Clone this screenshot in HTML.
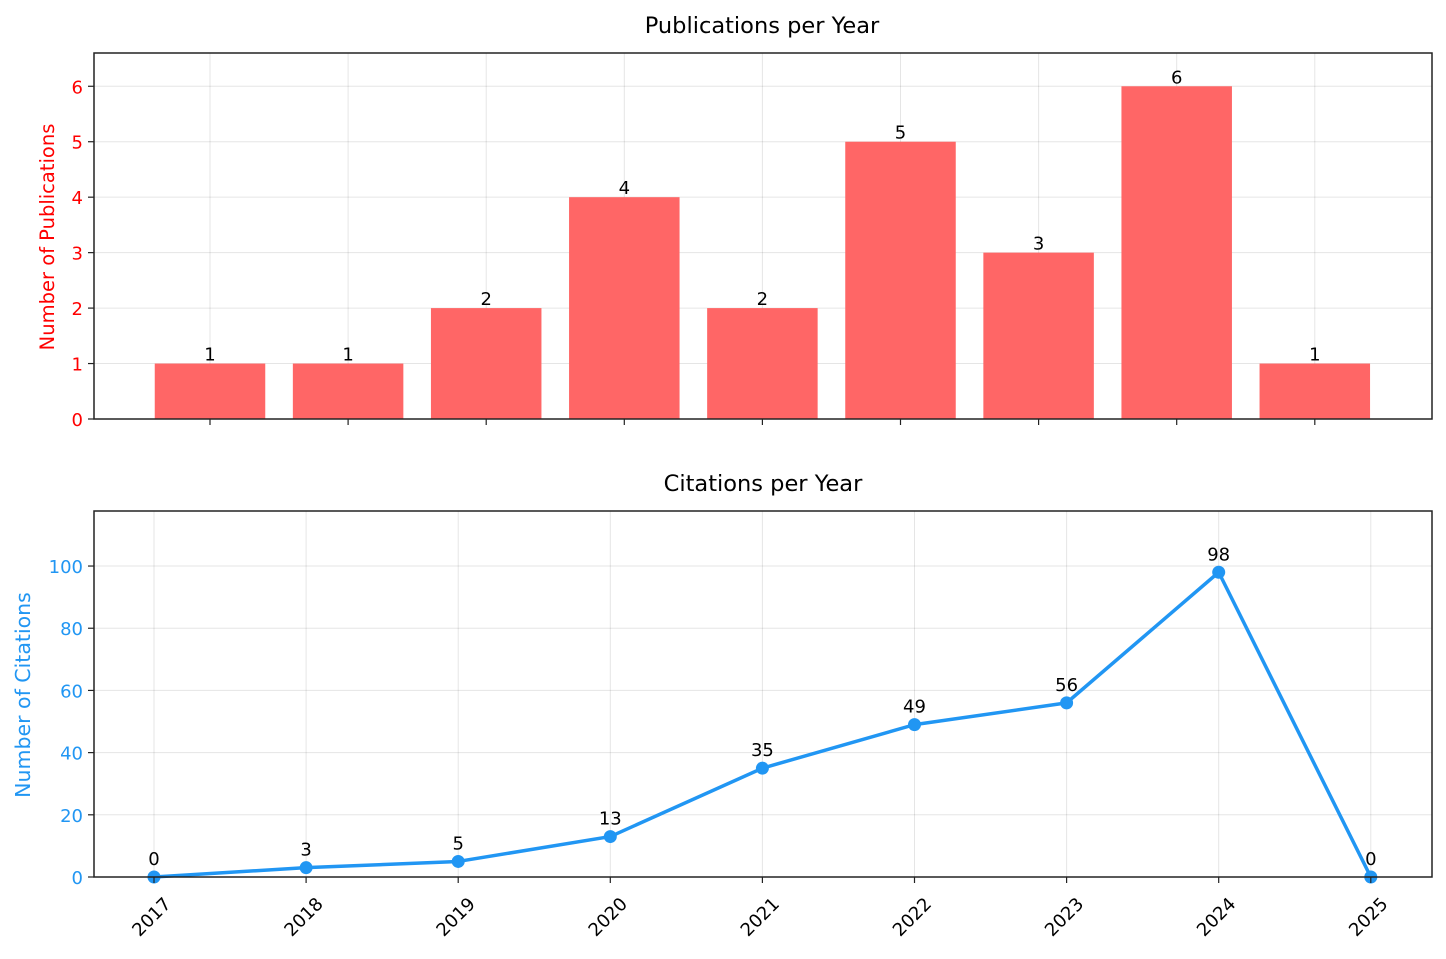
<!DOCTYPE html>
<html><head><meta charset="utf-8"><style>
html,body{margin:0;padding:0;background:#fff;}
svg text{font-family:"DejaVu Sans","Liberation Sans",sans-serif;}
</style></head><body>
<svg id="chart" width="1446" height="954" xmlns="http://www.w3.org/2000/svg"></svg>
<script>
const years = ["2017","2018","2019","2020","2021","2022","2023","2024","2025"];
const publications = [1,1,2,4,2,5,3,6,1];
const citations = [0,3,5,13,35,49,56,98,0];
const pubTicks = [0,1,2,3,4,5,6];
const citTicks = [0,20,40,60,80,100];

const NS = "http://www.w3.org/2000/svg";
const svg = document.getElementById("chart");
function mk(tag, attrs, parent){const e=document.createElementNS(NS,tag);for(const k in attrs)e.setAttribute(k,attrs[k]);(parent||svg).appendChild(e);return e;}

const L=94,R=1432;
const T1=53,B1=419, T2=511,B2=877;
const FS=18;
const xTop = i => 210 + i*138.1;
const yTop = v => B1 - v*(B1-T1)/6.6;
const xBot = i => 154 + i*152.1;
const yBot = v => B2 - v*(B2-T2)/117.7;

const g1 = mk("g",{});


years.forEach((y,i)=>{mk("line",{x1:xTop(i),x2:xTop(i),y1:T1,y2:B1,stroke:"#000","stroke-opacity":0.1,"stroke-width":1},g1);});
pubTicks.forEach(v=>{mk("line",{x1:L,x2:R,y1:yTop(v),y2:yTop(v),stroke:"#000","stroke-opacity":0.1,"stroke-width":1},g1);});
publications.forEach((v,i)=>{
  const w=110.5;
  const r=mk("rect",{x:xTop(i)-w/2,y:yTop(v),width:w,height:B1-yTop(v),fill:"#ff6666"},g1);
  
  
  const t=mk("text",{x:xTop(i),y:yTop(v)-3,"text-anchor":"middle","font-size":FS,fill:"#000"},g1);
  t.textContent=v;
  
  
});
mk("rect",{x:L,y:T1,width:R-L,height:B1-T1,fill:"none",stroke:"#222","stroke-width":1.5},g1);
pubTicks.forEach(v=>{
  mk("line",{x1:L-6,x2:L,y1:yTop(v),y2:yTop(v),stroke:"#222","stroke-width":1.2},g1);
  const t=mk("text",{x:L-11,y:yTop(v)+7,"text-anchor":"end","font-size":FS,fill:"red"},g1);
  t.textContent=v;
  
  
});
years.forEach((y,i)=>{mk("line",{x1:xTop(i),x2:xTop(i),y1:B1,y2:B1+6,stroke:"#222","stroke-width":1.2},g1);});
let t=mk("text",{x:762,y:33,"text-anchor":"middle","font-size":22.5,fill:"#000"},g1);t.textContent="Publications per Year";

t=mk("text",{x:0,y:0,"text-anchor":"middle","font-size":19.5,fill:"red",transform:"translate(54,237) rotate(-90)"},g1);t.textContent="Number of Publications";


const g2 = mk("g",{});


years.forEach((y,i)=>{mk("line",{x1:xBot(i),x2:xBot(i),y1:T2,y2:B2,stroke:"#000","stroke-opacity":0.1,"stroke-width":1},g2);});
citTicks.forEach(v=>{mk("line",{x1:L,x2:R,y1:yBot(v),y2:yBot(v),stroke:"#000","stroke-opacity":0.1,"stroke-width":1},g2);});
const line=mk("polyline",{points:citations.map((v,i)=>xBot(i)+","+yBot(v)).join(" "),fill:"none",stroke:"#2196f3","stroke-width":3.5,"stroke-linejoin":"round"},g2);

citations.forEach((v,i)=>{
  const c=mk("circle",{cx:xBot(i),cy:yBot(v),r:6.5,fill:"#2196f3"},g2);
  
  
  const tt=mk("text",{x:xBot(i),y:yBot(v)-12,"text-anchor":"middle","font-size":FS,fill:"#000"},g2);
  tt.textContent=v;
  
  
});
mk("rect",{x:L,y:T2,width:R-L,height:B2-T2,fill:"none",stroke:"#222","stroke-width":1.5},g2);
citTicks.forEach(v=>{
  mk("line",{x1:L-6,x2:L,y1:yBot(v),y2:yBot(v),stroke:"#222","stroke-width":1.2},g2);
  const tt=mk("text",{x:L-11,y:yBot(v)+7,"text-anchor":"end","font-size":FS,fill:"#2196f3"},g2);
  tt.textContent=v;
  
  
});
years.forEach((y,i)=>{
  mk("line",{x1:xBot(i),x2:xBot(i),y1:B2,y2:B2+6,stroke:"#222","stroke-width":1.2},g2);
  const tt=mk("text",{x:0,y:0,"text-anchor":"end","font-size":FS,fill:"#000",transform:`translate(${xBot(i)+18},${B2+28}) rotate(-45)`},g2);
  tt.textContent=y;
  
  
});
t=mk("text",{x:763,y:491,"text-anchor":"middle","font-size":22.5,fill:"#000"},g2);t.textContent="Citations per Year";

t=mk("text",{x:0,y:0,"text-anchor":"middle","font-size":20.5,fill:"#2196f3",transform:"translate(30,695) rotate(-90)"},g2);t.textContent="Number of Citations";

</script>
</body></html>
